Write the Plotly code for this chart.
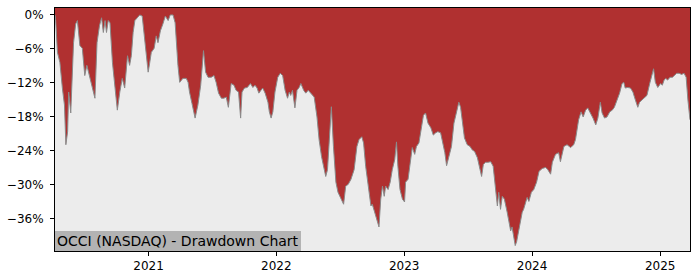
import plotly.graph_objects as go

dates = [
    "2020-04-09", "2020-04-11", "2020-04-16", "2020-04-23", "2020-04-30", "2020-05-06",
    "2020-05-10", "2020-05-15", "2020-05-18", "2020-05-24", "2020-06-01", "2020-06-07",
    "2020-06-12", "2020-06-19", "2020-06-26", "2020-07-03", "2020-07-09", "2020-07-14",
    "2020-07-22", "2020-08-01", "2020-08-07", "2020-08-14", "2020-08-20", "2020-08-25",
    "2020-08-30", "2020-09-03", "2020-09-08", "2020-09-13", "2020-09-20", "2020-09-27",
    "2020-10-04", "2020-10-11", "2020-10-18", "2020-10-25", "2020-11-02", "2020-11-08",
    "2020-11-13", "2020-11-18", "2020-11-23", "2020-11-30", "2020-12-07", "2020-12-14",
    "2020-12-21", "2020-12-31",
    "2021-01-04", "2021-01-09", "2021-01-17", "2021-01-23", "2021-01-28", "2021-02-04",
    "2021-02-11", "2021-02-18", "2021-02-26", "2021-03-04", "2021-03-12", "2021-03-18",
    "2021-03-26", "2021-03-31", "2021-04-09", "2021-04-19", "2021-04-24", "2021-04-28",
    "2021-05-05", "2021-05-14", "2021-05-22", "2021-05-30", "2021-06-07", "2021-06-13",
    "2021-06-20", "2021-06-29", "2021-07-07", "2021-07-13", "2021-07-20", "2021-07-28",
    "2021-08-04", "2021-08-11", "2021-08-17", "2021-08-25", "2021-09-02", "2021-09-08",
    "2021-09-15", "2021-09-21", "2021-09-25", "2021-10-02", "2021-10-10", "2021-10-19",
    "2021-10-26", "2021-11-01", "2021-11-07", "2021-11-12", "2021-11-18", "2021-11-23",
    "2021-11-30", "2021-12-08", "2021-12-12", "2021-12-17", "2021-12-22", "2021-12-28",
    "2022-01-05", "2022-01-12", "2022-01-19", "2022-01-26", "2022-02-02", "2022-02-07",
    "2022-02-11", "2022-02-16", "2022-02-23", "2022-03-01", "2022-03-07", "2022-03-12",
    "2022-03-20", "2022-03-26", "2022-04-02", "2022-04-10", "2022-04-19", "2022-04-27",
    "2022-05-03", "2022-05-10", "2022-05-16", "2022-05-22", "2022-05-27", "2022-06-01",
    "2022-06-07", "2022-06-13", "2022-06-20", "2022-06-26", "2022-07-04", "2022-07-12",
    "2022-07-18", "2022-07-25", "2022-08-02", "2022-08-11", "2022-08-19", "2022-08-25",
    "2022-09-02", "2022-09-07", "2022-09-13", "2022-09-20", "2022-09-28", "2022-10-02",
    "2022-10-09", "2022-10-15", "2022-10-21", "2022-10-26", "2022-10-31", "2022-11-05",
    "2022-11-09", "2022-11-16", "2022-11-22", "2022-11-28", "2022-12-05", "2022-12-10",
    "2022-12-14", "2022-12-20", "2022-12-27",
    "2023-01-02", "2023-01-05", "2023-01-12", "2023-01-18", "2023-01-24", "2023-01-31",
    "2023-02-05", "2023-02-12", "2023-02-19", "2023-02-25", "2023-03-03", "2023-03-10",
    "2023-03-18", "2023-03-25", "2023-04-01", "2023-04-07", "2023-04-15", "2023-04-22",
    "2023-04-27", "2023-05-02", "2023-05-09", "2023-05-16", "2023-05-23", "2023-05-31",
    "2023-06-06", "2023-06-11", "2023-06-16", "2023-06-22", "2023-06-30", "2023-07-08",
    "2023-07-14", "2023-07-21", "2023-07-29", "2023-08-05", "2023-08-10", "2023-08-15",
    "2023-08-21", "2023-08-28", "2023-09-05", "2023-09-12", "2023-09-19", "2023-09-24",
    "2023-09-28", "2023-10-03", "2023-10-08", "2023-10-14", "2023-10-22", "2023-10-27",
    "2023-11-01", "2023-11-05", "2023-11-10", "2023-11-14", "2023-11-18", "2023-11-21",
    "2023-11-27", "2023-12-04", "2023-12-08", "2023-12-13", "2023-12-18", "2023-12-23",
    "2023-12-30",
    "2024-01-06", "2024-01-14", "2024-01-21", "2024-01-30", "2024-02-09", "2024-02-15",
    "2024-02-23", "2024-02-28", "2024-03-08", "2024-03-17", "2024-03-22", "2024-04-01",
    "2024-04-10", "2024-04-20", "2024-04-29", "2024-05-04", "2024-05-13", "2024-05-20",
    "2024-05-26", "2024-06-02", "2024-06-08", "2024-06-16", "2024-06-23", "2024-07-01",
    "2024-07-07", "2024-07-14", "2024-07-19", "2024-07-26", "2024-08-02", "2024-08-10",
    "2024-08-17", "2024-08-23", "2024-08-31", "2024-09-07", "2024-09-14", "2024-09-19",
    "2024-09-23", "2024-09-30", "2024-10-08", "2024-10-15", "2024-10-22", "2024-10-29",
    "2024-11-03", "2024-11-10", "2024-11-17", "2024-11-24", "2024-12-02", "2024-12-09",
    "2024-12-13", "2024-12-18", "2024-12-25",
    "2025-01-02", "2025-01-07", "2025-01-12", "2025-01-17", "2025-01-22", "2025-01-29",
    "2025-02-05", "2025-02-11", "2025-02-17", "2025-02-24", "2025-03-03", "2025-03-10",
    "2025-03-16", "2025-03-21", "2025-03-27",
]

drawdown = [
    0.0, -1.0, -6.6, -8.4, -12.9, -15.9,
    -22.9, -20.6, -13.6, -17.3, -4.9, -1.6,
    -1.0, -5.4, -5.9, -10.7, -8.9, -10.1,
    -11.9, -14.7, -4.9, -1.9, -0.5, -3.1,
    -1.0, -3.1, -1.0, -1.4, -8.4, -12.9,
    -16.8, -13.6, -11.2, -12.9, -7.2, -8.9,
    -7.2, -3.1, -1.0, -0.5, 0.0, -0.2,
    -4.2, -10.1,
    -8.6, -6.6, -5.9, -3.7, -4.9, -2.8,
    -1.6, -0.2, -1.0, 0.0, 0.0, -1.4,
    -8.9, -11.9, -11.2, -11.2, -11.9, -13.6,
    -15.6, -18.2, -15.9, -12.4, -6.3, -10.1,
    -11.0, -11.0, -10.7, -11.9, -13.8, -14.7,
    -14.7, -14.5, -16.3, -12.1, -12.4, -13.3,
    -13.6, -18.2, -13.6, -12.9, -12.8, -12.1,
    -12.8, -12.4, -12.9, -13.8, -13.3, -12.9,
    -13.8, -15.4, -17.1, -18.2, -17.1, -13.6,
    -11.0, -10.3, -10.7, -13.3, -14.7, -13.6,
    -14.2, -13.3, -16.4, -13.3, -12.8, -12.1,
    -13.3, -13.8, -13.3, -13.8, -14.5, -18.0,
    -22.0, -25.0, -26.7, -28.5, -27.3, -22.0,
    -16.2, -23.2, -29.5, -31.3, -32.5, -33.4,
    -30.2, -29.9, -29.0, -27.3, -23.2, -22.0,
    -21.5, -22.6, -26.7, -30.2, -33.7, -33.4,
    -34.8, -36.0, -37.4, -32.5, -30.2, -32.0,
    -30.2, -30.8, -29.5, -27.3, -25.5, -22.4,
    -26.7, -30.8, -32.5,
    -33.0, -29.5, -29.0, -26.0, -23.4, -24.6,
    -23.2, -22.6, -19.7, -17.7, -17.3, -19.1,
    -19.9, -21.2, -20.8, -20.6, -20.8, -22.6,
    -24.3, -26.6, -25.0, -23.2, -19.1, -16.8,
    -15.4, -16.3, -19.1, -21.7, -22.9, -23.2,
    -23.8, -24.1, -25.2, -26.9, -28.5, -26.4,
    -26.0, -26.0, -25.9, -26.7, -30.8, -33.7,
    -31.3, -34.3, -32.0, -32.5, -34.8, -36.5,
    -38.1, -37.4, -39.2, -40.7, -40.0, -39.0,
    -36.5, -34.8, -34.3, -33.0, -32.2, -32.9,
    -31.3,
    -30.8, -29.5, -27.6, -27.1, -26.9, -27.3,
    -28.1, -26.0, -24.6, -24.3, -25.9, -23.2,
    -22.9, -23.4, -22.9, -22.0, -18.5, -17.1,
    -18.0, -16.8, -16.4, -17.3, -18.2, -19.4,
    -18.2, -15.4, -17.3, -18.2, -18.0, -17.1,
    -16.8, -16.3, -15.0, -13.8, -12.1, -11.9,
    -12.9, -12.8, -12.9, -13.6, -15.0, -16.3,
    -15.4, -15.0, -14.5, -14.2, -12.1, -10.7,
    -9.5, -11.9, -12.8,
    -12.1, -12.4, -11.5, -11.2, -11.5, -11.0,
    -11.0, -10.7, -10.3, -10.3, -10.5, -10.3,
    -11.0, -15.0, -18.5,
]

y_top = 1.22
y_bottom = -41.65
y_ticks = [0, -6, -12, -18, -24, -30, -36]
y_tick_labels = ["0%", "\u22126%", "\u221212%", "\u221218%", "\u221224%", "\u221230%", "\u221236%"]
x_ticks = ["2021-01-01", "2022-01-01", "2023-01-01", "2024-01-01", "2025-01-01"]
x_tick_labels = ["2021", "2022", "2023", "2024", "2025"]
title_text = "OCCI (NASDAQ) - Drawdown Chart"

fig = go.Figure()
# upper boundary of the filled region (top of the plot)
fig.add_trace(go.Scatter(
    x=dates, y=[y_top] * len(dates), mode="lines",
    line=dict(width=0, color="rgba(0,0,0,0)"),
    hoverinfo="skip", showlegend=False,
))
fig.add_trace(go.Scatter(
    x=dates, y=drawdown, mode="lines", fill="tonexty",
    fillcolor="#b03030", line=dict(color="#8a8a8a", width=1),
    hoverinfo="skip", showlegend=False,
))

axis_common = dict(
    showline=True, linecolor="black", linewidth=1, mirror=True,
    ticks="outside", ticklen=4, tickcolor="black", tickwidth=1,
    showgrid=False, zeroline=False,
    tickfont=dict(family="DejaVu Sans", size=12, color="black"),
)

fig.update_layout(
    width=700, height=280,
    margin=dict(l=53, r=10, t=7, b=28),
    paper_bgcolor="white", plot_bgcolor="#ececec",
    xaxis=dict(range=["2020-04-09", "2025-03-27"], tickvals=x_ticks,
               ticktext=x_tick_labels, **axis_common),
    yaxis=dict(range=[y_bottom, y_top], tickvals=y_ticks,
               ticktext=y_tick_labels, ticklabelstandoff=4, **axis_common),
    annotations=[dict(
        text=title_text, xref="paper", yref="paper", x=0, y=0,
        xanchor="left", yanchor="bottom", showarrow=False,
        font=dict(family="DejaVu Sans", size=14, color="black"),
        bgcolor="#b3b3b3", borderpad=2, borderwidth=0,
    )],
)

fig.write_html("out.html")
